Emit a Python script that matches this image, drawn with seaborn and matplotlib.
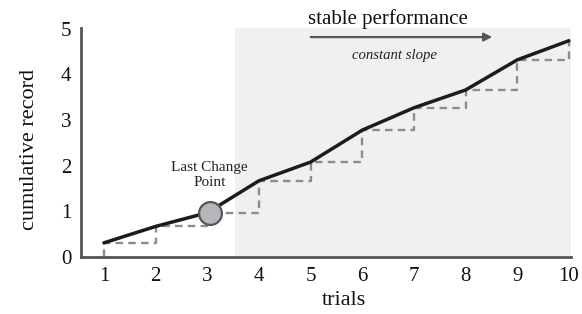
import matplotlib
matplotlib.use("Agg")
import matplotlib.pyplot as plt
import seaborn as sns
import numpy as np
import pandas as pd

trials = [1, 2, 3, 4, 5, 6, 7, 8, 9, 10]
record = [0.31, 0.67, 0.97, 1.67, 2.08, 2.78, 3.27, 3.66, 4.32, 4.74]
x_ticks = [1, 2, 3, 4, 5, 6, 7, 8, 9, 10]
y_ticks = [0, 1, 2, 3, 4, 5]
change_trial = 3.05
change_value = 0.97
stable_start = 3.54

sns.set_theme(style="white")
plt.rcParams['font.family'] = ['Liberation Serif', 'DejaVu Serif']

fig = plt.figure(figsize=(5.82, 3.14), dpi=100)
ax = fig.add_axes([0.139, 0.1815, 0.842, 0.7295])

ax.axvspan(stable_start, 10.1, ymin=0, ymax=1, color='#eff1f1', zorder=0, lw=0)

step_x = [trials[0]] + trials
step_y = [0] + record
ax.plot(step_x, step_y, drawstyle='steps-post', ls=(0, (3.2, 2.2)), color='#8c8c8c', lw=1.7, zorder=2)

df = pd.DataFrame({'trials': trials, 'record': record})
sns.lineplot(data=df, x='trials', y='record', ax=ax, color='#1c1c1c', lw=2.5, zorder=3)

ax.scatter([change_trial], [change_value], s=270, facecolor='#b4b6bb', edgecolor='#555555', lw=1.6, zorder=4)
ax.text(change_trial, 1.8, 'Last Change\nPoint', ha='center', va='center', fontsize=11, color='#222222', linespacing=1.25)

ax.annotate('', xy=(8.57, 4.82), xytext=(4.95, 4.82),
            arrowprops=dict(arrowstyle='-|>', color='#555555', lw=1.6, mutation_scale=12))
ax.text(6.5, 5.22, 'stable performance', ha='center', va='center', fontsize=15, color='#111111', clip_on=False)
ax.text(6.63, 4.42, 'constant slope', ha='center', va='center', fontsize=10.6, style='italic', color='#222222')

ax.set_xlim(0.555, 10.04)
ax.set_ylim(0, 5.02)
ax.set_xticks(x_ticks)
ax.set_yticks(y_ticks)
ax.tick_params(axis='both', length=0, labelsize=15, colors='#111111', pad=7)
ax.tick_params(axis='y', pad=7)

for s in ['top', 'right']:
    ax.spines[s].set_visible(False)
for s in ['left', 'bottom']:
    ax.spines[s].set_color('#555555')
    ax.spines[s].set_linewidth(2)

ax.set_xlabel('trials', fontsize=16, color='#111111')
ax.set_ylabel('cumulative record', fontsize=16, color='#111111')
ax.xaxis.set_label_coords(0.537, -0.15)
ax.yaxis.set_label_coords(-0.086, 0.47)

fig.savefig('out.png', dpi=100)
